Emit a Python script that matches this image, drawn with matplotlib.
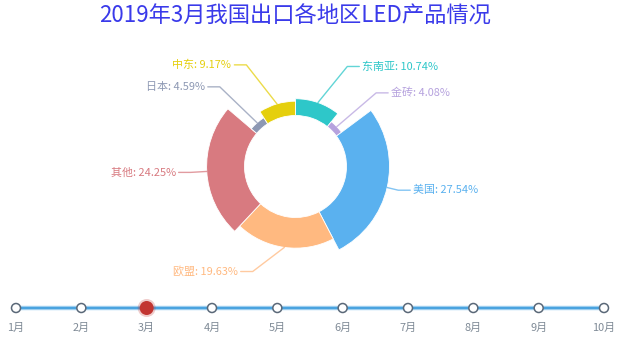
import numpy as np
import matplotlib
matplotlib.use("Agg")
import matplotlib.pyplot as plt
from matplotlib.patches import Wedge, Circle

plt.rcParams['font.family'] = ['Noto Sans CJK SC', 'DejaVu Sans']

# data (March 2019)
regions = ['东南亚', '金砖', '美国', '欧盟', '其他', '日本', '中东']
shares = [10.74, 4.08, 27.54, 19.63, 24.25, 4.59, 9.17]
colors = ['#2ec7c9', '#b6a2de', '#5ab1ef', '#ffb980', '#d87a80', '#8d98b3', '#e5cf0d']
months = ['1月', '2月', '3月', '4月', '5月', '6月', '7月', '8月', '9月', '10月']
current = 2
title = '2019年3月我国出口各地区LED产品情况'

W, H = 622, 356
fig = plt.figure(figsize=(W / 100, H / 100), dpi=100)
ax = fig.add_axes([0, 0, 1, 1])
ax.set_xlim(0, W)
ax.set_ylim(0, H)
ax.set_aspect('equal')
ax.axis('off')

px = 72 / 100  # pixel -> point

# pie layout (screen pixels, y measured from top)
cx, cy = 295.5, H - 166.5
r0, r_max = 51, 94
vmax = max(shares)
total = sum(shares)

start = 0.0
for name, val, col in zip(regions, shares, colors):
    span = val / total * 360
    r = r0 + val / vmax * (r_max - r0)
    w = Wedge((cx, cy), r, 90 - (start + span), 90 - start, width=r - r0,
              facecolor=col, edgecolor='white', linewidth=0.6)
    ax.add_patch(w)

    mid = np.radians(start + span / 2)
    dx, dy = np.sin(mid), np.cos(mid)
    side = 1 if dx >= 0 else -1
    # label line: radial start, elbow re-aligned on an ellipse, then horizontal
    x1, y1 = cx + r * dx, cy + r * dy
    rA, rB = r_max + 11, r_max + 21
    ey = (r_max + 12) * dy
    ex = side * rA * np.sqrt(max(0.0, 1 - (ey / rB) ** 2))
    x2, y2 = cx + ex, cy + ey
    x3 = x2 + side * 12
    ax.plot([x1, x2, x3], [y1, y2, y2], color=col, lw=1, alpha=0.75,
            solid_capstyle='round')
    ax.text(x3 + side * 3, y2, f'{name}: {val:.2f}%', color=col,
            fontsize=11 * px, ha='left' if side > 0 else 'right', va='center')
    start += span

# title
ax.text(295, H - 16, title, color='#3a3aea', fontsize=22.3 * px,
        ha='center', va='center')

# timeline
ty = H - 308
xs = np.linspace(16, 604, len(months))
ax.plot([xs[0], xs[-1]], [ty, ty], color='#a8d4f2', lw=3.2, zorder=2,
        solid_capstyle='butt')
ax.plot([xs[0], xs[-1]], [ty, ty], color='#4aa3df', lw=1.6, zorder=2,
        solid_capstyle='butt')
for i, (x, m) in enumerate(zip(xs, months)):
    if i == current:
        ax.add_patch(Circle((x, ty), 9, facecolor='#c23531', alpha=0.25,
                            edgecolor='none', zorder=3))
        ax.add_patch(Circle((x, ty), 7, facecolor='#c23531', edgecolor='none',
                            zorder=4))
    else:
        ax.add_patch(Circle((x, ty), 4.5, facecolor='white', edgecolor='#5a6878',
                            linewidth=1.1, zorder=4))
    ax.text(x, H - 328, m, color='#7f8a96', fontsize=11 * px,
            ha='center', va='center')

fig.savefig('out.png', dpi=100)
